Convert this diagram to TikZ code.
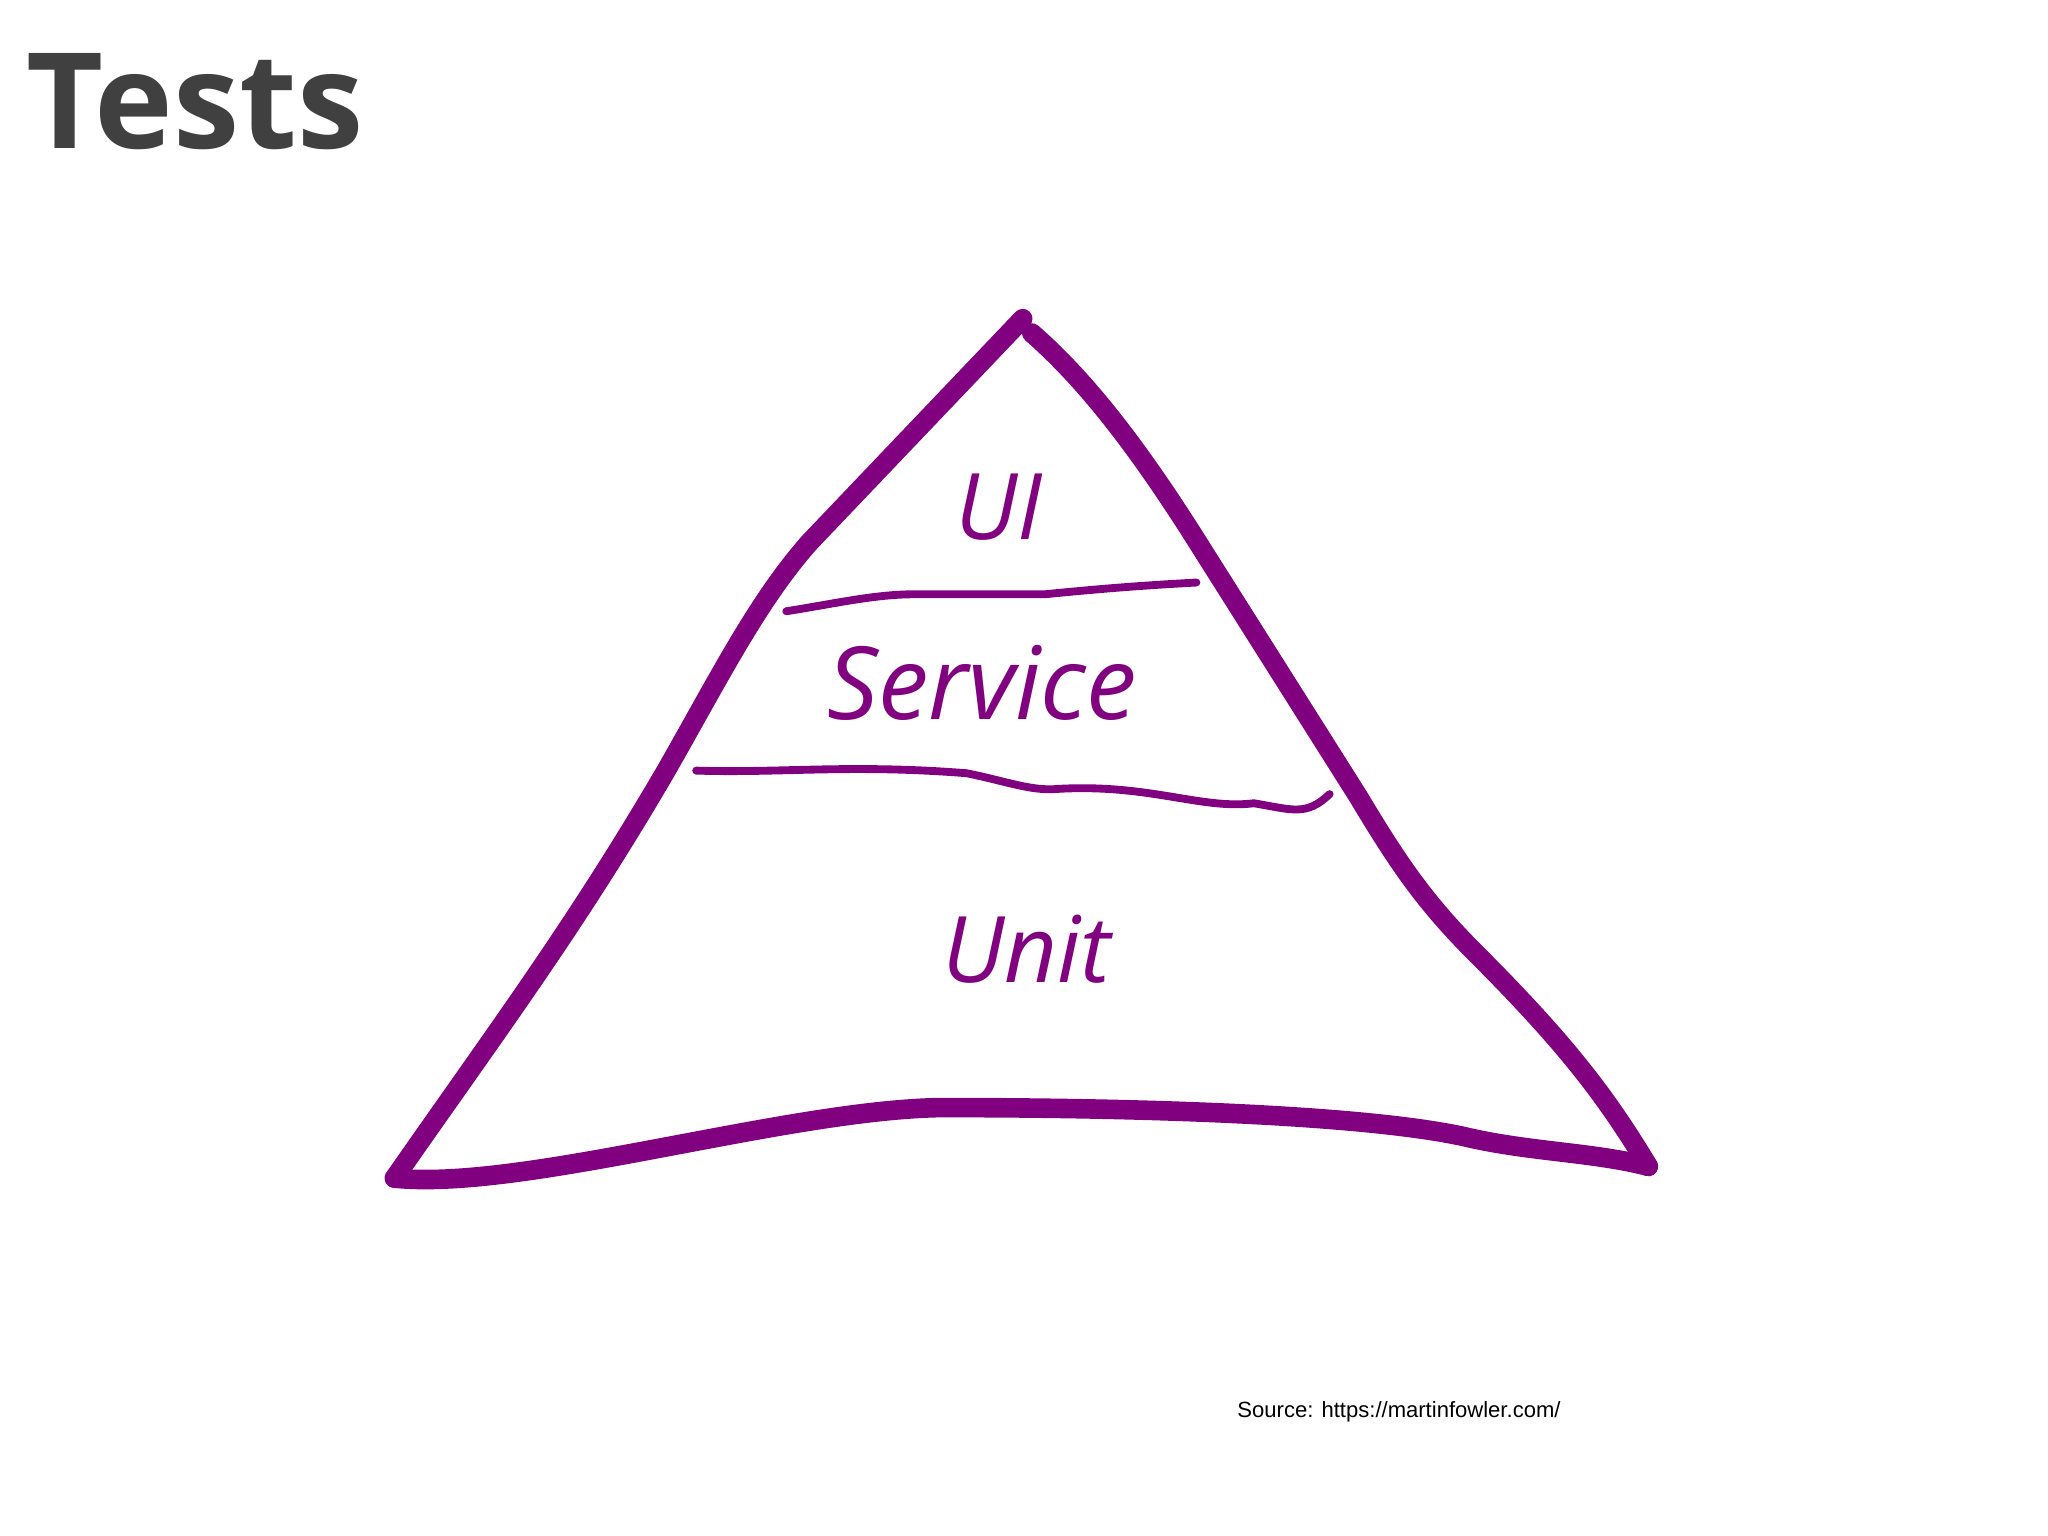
\documentclass[tikz,border=0pt]{standalone}
\usepackage{fontspec}
\setmainfont{Open Sans}
\newfontfamily\srcfont{Liberation Sans}
\definecolor{pur}{HTML}{800080}
\definecolor{ttl}{HTML}{404040}
\begin{document}
\begin{tikzpicture}[x=0.01cm,y=-0.01cm,
  thick edge/.style={draw=pur,line width=0.15cm,line cap=round,line join=round},
  thin edge/.style={draw=pur,line width=0.06cm,line cap=round},
  lbl/.style={text=pur,font=\fontsize{#1}{#1}\selectfont\itshape}]
\useasboundingbox (0,0) rectangle (1568,1176);
\node[anchor=west,text=ttl,font=\fontsize{29}{29}\selectfont\bfseries] (title) at (8,78) {Tests};
\coordinate (apex) at (783,244);
\coordinate (bl) at (302,902);
\coordinate (br) at (1262,893);
\draw[thick edge] (bl) .. controls (380,790) and (440,710) .. (510,590)
  .. controls (550,520) and (580,460) .. (620,415) -- (apex);
\draw[thick edge] (790,255) .. controls (830,290) and (870,340) .. (920,420)
  -- (1040,610) .. controls (1070,660) and (1090,690) .. (1130,730)
  .. controls (1200,800) and (1230,840) .. (br);
\draw[thick edge] (bl) .. controls (400,912) and (600,850) .. (720,848)
  .. controls (900,848) and (1050,855) .. (1120,870) .. controls (1170,882) and (1220,882) .. (br);
\draw[thin edge] (602,468) .. controls (640,462) and (670,455) .. (700,455)
  -- (800,455) .. controls (850,450) and (880,448) .. (916,446);
\draw[thin edge] (533,590) .. controls (600,592) and (650,585) .. (740,592)
  .. controls (770,598) and (790,606) .. (810,604) .. controls (880,600) and (920,620) .. (960,615)
  .. controls (990,620) and (1000,625) .. (1018,608);
\node[lbl=20] (ui) at (765,388) {UI};
\node[lbl=22] (service) at (752,523) {Service};
\node[lbl=20] (unit) at (786,727) {Unit};
\node[anchor=west,font=\srcfont\fontsize{4.8}{5}\selectfont] (src) at (935,1081) {Source: https://martinfowler.com/};
\end{tikzpicture}
\end{document}
